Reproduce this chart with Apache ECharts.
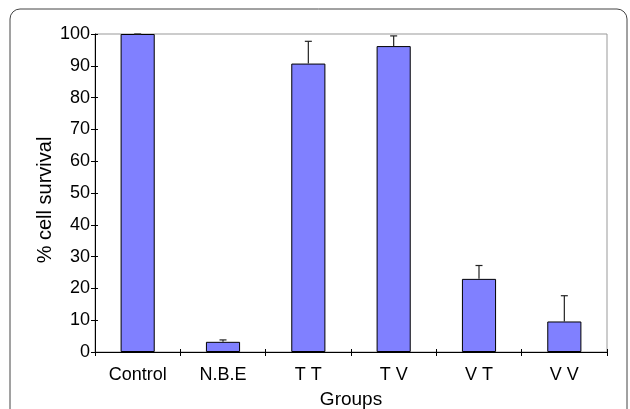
<!DOCTYPE html>
<html>
<head>
<meta charset="utf-8">
<script src="https://cdn.jsdelivr.net/npm/echarts@6/dist/echarts.min.js"></script>
<style>
    html, body { margin: 0; padding: 0; background: #fff; }
    #chart { width: 630px; height: 409px; }
</style>
</head>
<body>
<div id="chart"></div>
<script>
    // data
    var groups = ['Control', 'N.B.E', 'T T', 'T V', 'V T', 'V V'];
    var survival = [100, 3.2, 90.7, 96.2, 23.0, 9.6];
    var errors = [0, 0.6, 7.0, 3.2, 4.2, 8.1];
    var yTicks = [0, 10, 20, 30, 40, 50, 60, 70, 80, 90, 100];

    var font = '"Liberation Sans", Arial, sans-serif';
    var chart = echarts.init(document.getElementById('chart'));

    // error bars: vertical line + cap
    function renderError(params, api) {
        var i = api.value(0);
        var base = api.coord([i, api.value(1)]);
        var top = api.coord([i, api.value(1) + api.value(2)]);
        var half = 3.5;
        var style = { stroke: '#222', lineWidth: 1.2 };
        return {
            type: 'group',
            children: [
                { type: 'line', shape: { x1: base[0], y1: base[1], x2: top[0], y2: top[1] }, style: style },
                { type: 'line', shape: { x1: top[0] - half, y1: top[1], x2: top[0] + half, y2: top[1] }, style: style }
            ]
        };
    }

    var option = {
        animation: false,
        backgroundColor: '#fff',
        graphic: [{
            type: 'rect',
            shape: { x: 10, y: 9, width: 617, height: 440, r: 10 },
            style: { fill: 'none', stroke: '#444', lineWidth: 1 },
            silent: true
        }],
        grid: {
            left: 95, right: 23, top: 34, bottom: 57,
            outerBoundsMode: 'none',
            containLabel: false,
            show: true, borderColor: '#999', borderWidth: 1
        },
        xAxis: [{
            type: 'category',
            data: groups,
            name: 'Groups',
            nameLocation: 'middle',
            nameGap: 38,
            nameMoveOverlap: false,
            nameTextStyle: { color: '#000', fontSize: 19, fontFamily: font },
            axisLine: { lineStyle: { color: '#000', width: 1 } },
            axisTick: { show: true, length: 4, lineStyle: { color: '#000' } },
            axisLabel: { color: '#000', fontSize: 18, fontFamily: font, margin: 14 },
            splitLine: { show: false }
        }, {
            type: 'category',
            data: groups,
            position: 'bottom',
            axisLine: { show: false },
            axisTick: { show: true, inside: true, length: 3, lineStyle: { color: '#000' } },
            axisLabel: { show: false }
        }],
        yAxis: [{
            type: 'value',
            min: 0, max: 100, interval: 10,
            name: '% cell survival',
            nameLocation: 'middle',
            nameGap: 40,
            nameMoveOverlap: false,
            nameTextStyle: { color: '#000', fontSize: 20, fontFamily: font, padding: [0, 14, 0, 0] },
            axisLine: { show: true, lineStyle: { color: '#000', width: 1 } },
            axisTick: { show: true, length: 4, lineStyle: { color: '#000' } },
            axisLabel: {
                color: '#000', fontSize: 18, fontFamily: font, margin: 5,
                formatter: function (v) { return yTicks.indexOf(v) >= 0 ? String(v) : ''; }
            },
            splitLine: { show: false }
        }, {
            type: 'value',
            min: 0, max: 100, interval: 10,
            position: 'left',
            axisLine: { show: false },
            axisTick: { show: true, inside: true, length: 3, lineStyle: { color: '#000' } },
            axisLabel: { show: false },
            splitLine: { show: false }
        }],
        series: [{
            type: 'bar',
            data: survival,
            barWidth: '40%',
            itemStyle: { color: '#8080ff', borderColor: '#000', borderWidth: 1 }
        }, {
            type: 'custom',
            renderItem: renderError,
            data: survival.map(function (v, i) { return [i, v, errors[i]]; }),
            encode: { x: 0, y: 1 },
            z: 3
        }]
    };

    chart.setOption(option);
</script>
</body>
</html>
